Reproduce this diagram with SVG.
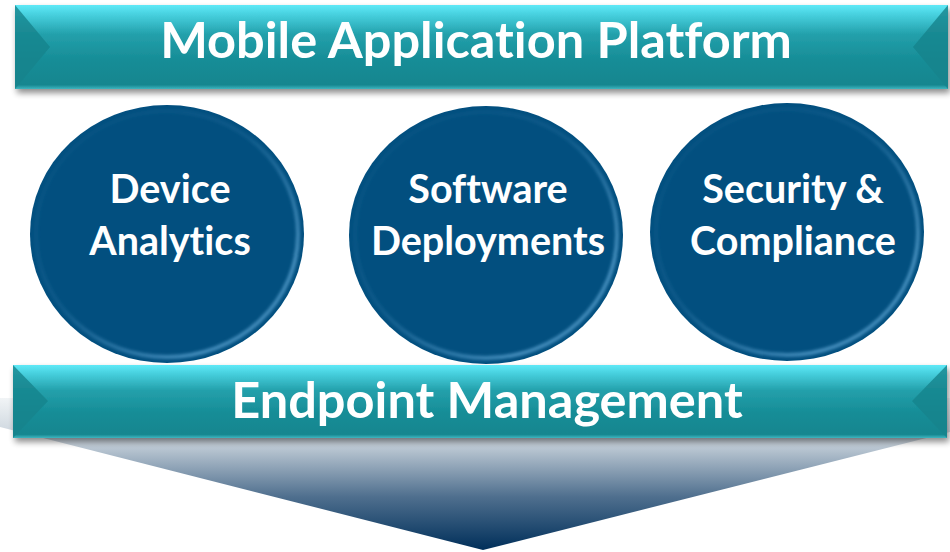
<svg xmlns="http://www.w3.org/2000/svg" width="950" height="552" viewBox="0 0 950 552">
<defs>
<linearGradient id="bannerG" x1="0" y1="0" x2="0" y2="1">
<stop offset="0" stop-color="#5fe9f7"/>
<stop offset="0.12" stop-color="#46cfdd"/>
<stop offset="0.35" stop-color="#23a0ab"/>
<stop offset="0.65" stop-color="#178d97"/>
<stop offset="0.95" stop-color="#13868f"/>
<stop offset="1" stop-color="#3fb6c0"/>
</linearGradient>
<linearGradient id="arrowG" x1="0" y1="0" x2="0" y2="1">
<stop offset="0" stop-color="#f1f4f6"/>
<stop offset="0.3" stop-color="#c3ced8"/>
<stop offset="0.65" stop-color="#4f6f8e"/>
<stop offset="1" stop-color="#002f5a"/>
</linearGradient>
<linearGradient id="ringHL" x1="0" y1="0" x2="1" y2="1">
<stop offset="0" stop-color="#3d86b5" stop-opacity="0"/>
<stop offset="0.45" stop-color="#3d86b5" stop-opacity="0.2"/>
<stop offset="0.8" stop-color="#4a93c2" stop-opacity="0.9"/>
<stop offset="1" stop-color="#4a93c2" stop-opacity="0.7"/>
</linearGradient>
<filter id="blur2" x="-10%" y="-10%" width="120%" height="120%">
<feGaussianBlur stdDeviation="1.6"/>
</filter>
<filter id="sh" x="-5%" y="-20%" width="110%" height="150%">
<feGaussianBlur in="SourceAlpha" stdDeviation="3"/>
<feOffset dx="2" dy="4"/>
<feComponentTransfer><feFuncA type="linear" slope="0.45"/></feComponentTransfer>
<feMerge><feMergeNode/><feMergeNode in="SourceGraphic"/></feMerge>
</filter>
</defs>
<style>
.bevel{fill:#17838c;opacity:0.8}
.t{font-family:Lato,"Open Sans","Liberation Sans",sans-serif;font-weight:700;fill:#ffffff;text-anchor:middle;font-variant-ligatures:none}
.big{font-size:50.5px}
.mid{font-size:39.5px}
.circ{fill:#024f7f}
.hl{fill:none;stroke:url(#ringHL);stroke-width:4;filter:url(#blur2)}
</style>
<rect width="950" height="552" fill="#ffffff"/>

<g id="arrow">
<polygon points="0,398 950,398 950,432 483,550 0,427" fill="url(#arrowG)"/>
</g>

<g id="top-banner" filter="url(#sh)">
<rect x="15" y="5" width="933" height="84" fill="url(#bannerG)"/>
<polygon class="bevel" points="15,5 50,47 15,89"/>
<polygon class="bevel" points="948,5 913,47 948,89"/>
<text class="t big" x="476" y="58">Mobile Application Platform</text>
</g>

<g id="device-analytics">
<ellipse class="circ" cx="167" cy="234" rx="137" ry="129"/>
<ellipse class="hl" cx="167" cy="234" rx="131" ry="123"/>
<text class="t mid" x="170" y="203">Device</text>
<text class="t mid" x="170" y="255">Analytics</text>
</g>

<g id="software-deployments">
<ellipse class="circ" cx="486" cy="235" rx="137" ry="129"/>
<ellipse class="hl" cx="486" cy="235" rx="131" ry="123"/>
<text class="t mid" x="488" y="203">Software</text>
<text class="t mid" x="488" y="255">Deployments</text>
</g>

<g id="security-compliance">
<ellipse class="circ" cx="787" cy="232" rx="137" ry="129"/>
<ellipse class="hl" cx="787" cy="232" rx="131" ry="123"/>
<text class="t mid" x="793" y="203">Security &amp;</text>
<text class="t mid" x="793" y="255">Compliance</text>
</g>

<g id="bottom-banner" filter="url(#sh)">
<rect x="13" y="365" width="934" height="73" fill="url(#bannerG)"/>
<polygon class="bevel" points="13,365 48,401 13,438"/>
<polygon class="bevel" points="947,365 912,401 947,438"/>
<text class="t big" x="487" y="418">Endpoint Management</text>
</g>

<g id="connectors"/>
</svg>
